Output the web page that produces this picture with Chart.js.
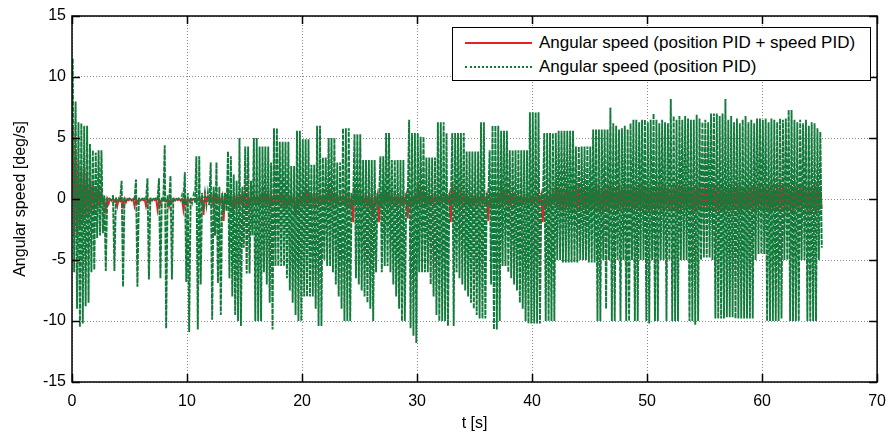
<!DOCTYPE html>
<html>
<head>
<meta charset="utf-8">
<script src="https://cdn.jsdelivr.net/npm/chart.js@4.4.0/dist/chart.umd.min.js"></script>
<style>
  body { margin: 0; background: #fff; }
  #wrap { position: relative; width: 896px; height: 437px; }
  #legend {
    position: absolute; left: 452px; top: 27px; width: 419px; height: 54px;
    box-sizing: border-box; border: 1.5px solid #000; background: #fff;
    font-family: "Liberation Sans", Arial, sans-serif; font-size: 17px; color: #000;
  }
  .row { position: absolute; left: 0; height: 22px; display: flex; align-items: center; white-space: nowrap; }
  .sample { width: 67px; margin-left: 12px; margin-right: 7px; height: 0; }
</style>
</head>
<body>
<div id="wrap">
  <canvas id="speedChart" width="896" height="437"></canvas>
  <div id="legend"></div>
</div>
<script>
// Angular speed, two controllers
// values in 0.25 s bins: upper / lower swing of each trace

const binStep = 0.25; // s

const seriesNames = ["Angular speed (position PID + speed PID)", "Angular speed (position PID)"];
const xTicks = [0, 10, 20, 30, 40, 50, 60, 70];
const yTicks = [-15, -10, -5, 0, 5, 10, 15];

// position PID only (green)
const greenHi = [
  11.5, 8, 6.3, 6.2,  6, 6, 4.5, 4,  3.8, 4, 4, 0.3,  0.1, 0.1, 0.3, 0.1,
  0.1, 1.5, 0.1, 0.1,  0.1, 0.1, 1.6, 0.1,  0.1, 0.1, 1.7, 0.1,  0.1, 0.1, 1.7, 0.1,
  4.4, 0.3, 1.9, 0.1,  0.1, 0.1, 0.3, 2.2,  0.5, 0.1, 0.3, 3.5,  3.5, 0.5, 0.5, 0.5,
  3, 1, 3, 1,  0.5, 0.5, 3.9, 3.5,  2, 1.5, 5, 1,  4.3, 4.3, 1.5, 5,
  5, 4.3, 4.3, 4.3,  4.3, 3, 5.8, 5.8,  4.7, 4.7, 4.7, 4.7,  2.7, 2.7, 5.6, 5.6,
  4.9, 4.9, 4.9, 2.8,  2.8, 6, 6, 3.4,  3.4, 5, 5, 5,  3, 3, 5.8, 5.8,
  5.8, 0.5, 5.3, 5.3,  5.3, 3.2, 3.2, 3.2,  3.2, 3.2, 0.5, 3.5,  3.5, 5.4, 5.4, 3.2,
  3.2, 3.2, 3.2, 3.2,  0.5, 6.5, 5.4, 5.4,  5.4, 5.1, 5.1, 3.4,  3.4, 3.4, 3.4, 6.3,
  6.3, 6.3, 5.4, 0.5,  5.4, 5.4, 5.4, 5.4,  5.4, 3.9, 3.9, 3.9,  3.9, 3.9, 6.3, 6.3,
  0.5, 4, 6, 6,  6, 5.6, 5.6, 5.6,  4, 4, 4, 4,  4, 4, 4, 7.1,
  7.1, 7.1, 7.1, 0.5,  5.4, 5.4, 5.4, 5.4,  5.4, 5.6, 5.6, 5.6,  5.6, 5.6, 5.6, 4.3,
  4.3, 4.3, 4.3, 4.3,  4.3, 5.7, 5.7, 5.7,  5.7, 5.7, 5.7, 7.5,  6.2, 6, 5.7, 5.8,
  6, 5.7, 6.2, 6.5,  6.5, 6.3, 6.5, 6.5,  6.3, 6.5, 7, 6.5,  6.2, 6.5, 6.3, 6.2,
  8.2, 6.8, 6.5, 6.8,  6.5, 6.8, 6.6, 6.5,  6.5, 6.9, 6.6, 6.3,  6.5, 6.3, 7, 7,
  7, 6.8, 7, 8.2,  6.5, 6.8, 6.3, 6.6,  6.2, 6.5, 6.8, 6.3,  6.5, 6.2, 6.6, 6.6,
  6.5, 6.6, 6.3, 6.6,  6.5, 6.3, 6.6, 6.5,  6.6, 7.3, 7.3, 6.5,  6.3, 6.5, 6.2, 6.5,
  6, 6.3, 6.2, 5.8,  5.5
];
const greenLo = [
  -6, -9, -10.5, -10.2,  -8.8, -8.5, -6, -5.8,  -3.2, -3, -2.8, -5.9,  -0.1, -0.1, -5.9, -0.2,
  -0.1, -7.2, -0.2, -0.1,  -0.1, -0.1, -7.2, -0.2,  -0.1, -0.1, -6.6, -0.2,  -0.1, -0.1, -6.5, -0.2,
  -10.6, -0.5, -6.6, -0.2,  -0.1, -0.1, -0.4, -6.8,  -10.9, -0.3, -0.3, -10.7,  -7, -0.5, -0.5, -0.5,
  -9.9, -3, -6.9, -9.5,  -1, -1, -6.5, -8,  -9.5, -10, -10.4, -4,  -6.1, -6.1, -3, -10,
  -10, -10, -6, -7,  -8.5, -10.7, -5.5, -5.5,  -5.5, -5.5, -6.5, -7.5,  -8.5, -9.5, -10, -10,
  -8, -8, -8, -8,  -9, -10.4, -10.4, -5,  -5.5, -5.5, -6, -7,  -8, -9, -10, -10,
  -10, -0.5, -6.5, -7,  -7.5, -8, -8.5, -9,  -10, -6, -0.5, -6,  -5.5, -5.5, -6, -7,
  -8, -9, -10, -10,  -0.5, -10.6, -11.2, -11.8,  -6, -6, -6, -6,  -7, -8, -9.5, -10,
  -10, -10, -10.4, -0.5,  -10.4, -6, -6.5, -7,  -7.5, -8, -8.5, -9,  -9.5, -9.8, -9.8, -9.8,
  -0.5, -7, -10.7, -10.7,  -10, -5.5, -5.5, -6,  -6.5, -7, -7.5, -8.5,  -9, -10, -10.2, -10.2,
  -10.2, -10.2, -10.2, -0.5,  -10, -10, -10, -10,  -5, -5, -5.2, -5.2,  -5.2, -5.2, -5.2, -5.2,
  -5, -5, -5, -5.2,  -5.2, -5.2, -10, -10,  -5, -9, -5, -10,  -10, -5, -10, -5,
  -10, -10, -5, -10,  -10, -5, -5, -10,  -10.2, -5, -10, -10,  -5, -5, -10, -5,
  -10, -10, -10, -5,  -5, -5, -10, -10,  -10.3, -10, -5, -4.8,  -4.8, -4.8, -5, -9.8,
  -9.8, -9.8, -9.8, -9.7,  -9.7, -9.7, -9.8, -9.8,  -9.8, -9.8, -9.8, -9.8,  -9.8, -5, -4.5, -4.5,
  -4.5, -10, -10, -10,  -10, -10, -9.8, -5,  -5, -10, -10, -10,  -10, -5, -5, -10,
  -10, -10, -10, -5,  -4
];

// position PID + speed PID (red)
const redHi = [
  6, 4, 3, 2.5,  2.5, 2, 1.5, 1.5,  1, 1, 0.5, 0,  0, 0, 0, 0,
  0, 0, 0, 0,  0, 0, 0, 0,  0, 0, 0, 0,  0, 0, 0, 0,
  0, 0, 0, 0,  0, 0, 0, 0,  0, 0, 0, 0,  0.2, 0, 0.3, 0.2,
  0.2, 0.5, 0.3, 0.2,  0.2, 0.5, 0.5, 0.3,  0.3, 0.3, 0.3, 0.5,  0.5, 0.3, 0.3, 0.3,
  0.3, 0.3, 0.7, 0.5,  0.5, 0.3, 0.3, 0.3,  0.3, 0.7, 0.5, 0.3,  0.3, 0.3, 0.3, 0.3,
  0.3, 0.9, 0.6, 0.4,  0.3, 0.3, 0.3, 0.3,  0.3, 1, 0.6, 0.4,  0.3, 0.3, 0.3, 0.3,
  0.3, 0.3, 1, 0.6,  0.4, 0.3, 0.3, 0.3,  0.3, 0.3, 0.3, 0.5,  1.1, 0.7, 0.5, 0.4,
  0.3, 0.3, 0.3, 0.3,  0.3, 0.3, 0.3, 0.3,  1.3, 0.8, 0.6, 0.4,  0.3, 0.3, 0.3, 0.3,
  0.3, 0.3, 0.3, 0.3,  1.4, 0.8, 0.6, 0.5,  0.4, 0.4, 0.3, 0.3,  0.3, 0.3, 0.3, 0.3,
  0.3, 0.3, 0.3, 0.3,  0.3, 1.4, 0.8, 0.6,  0.5, 0.4, 0.4, 0.3,  0.3, 0.3, 0.3, 0.3,
  0.3, 0.3, 0.3, 0.3,  0.3, 0.4, 0.4, 0.5,  1.4, 1, 0.9, 0.8,  1.2, 0.9, 1.1, 1.2,
  1, 1.2, 0.9, 1.1,  1.2, 1, 1.3, 1.1,  0.9, 1.2, 1.1, 1.3,  1.1, 0.9, 1.2, 1,
  1.3, 1.1, 1, 1.2,  1, 1.2, 1.3, 1.1,  1.2, 1, 0.9, 1.2,  1.1, 1.3, 1.2, 1,
  0.9, 1.1, 1.3, 1.2,  1.2, 1, 1.1, 1.3,  1, 1.2, 1.2, 0.9,  1.1, 1.3, 1, 1.2,
  1.2, 1.1, 1.3, 1,  1, 1.2, 1.1, 1.3,  1.3, 1, 1.2, 1.1,  1.1, 1.3, 1, 1.2,
  1.2, 1, 1.1, 1.3,  1, 1.2, 1.3, 1.1,  1.3, 1.1, 1, 1.2,  1.1, 1.2, 1.3, 1,
  1.2, 1, 1.3, 1.4,  1
];
const redLo = [
  -3, -3, -2.5, -2,  -1.5, -1.5, -1, -1,  -0.8, -0.5, -0.3, -0.9,  -0.4, -0.1, -0.2, -0.6,
  -0.2, -0.6, -0.3, -0.1,  -0.1, -0.6, -0.3, -0.1,  -0.1, -0.6, -0.3, -0.1,  -0.1, -0.9, -0.4, -0.1,
  -0.2, -0.6, -0.3, -0.1,  -0.1, -0.1, -0.9, -0.4,  -0.2, -0.1, -0.1, -0.1,  -0.2, -1.3, -0.3, -0.2,
  -0.3, -0.2, -0.2, -0.3,  -1.8, -0.3, -0.3, -0.8,  -0.5, -0.4, -0.3, -0.3,  -0.9, -0.5, -0.3, -0.3,
  -0.3, -0.3, -0.3, -0.3,  -0.5, -0.3, -0.3, -0.3,  -0.3, -1, -0.6, -0.4,  -0.3, -1.4, -0.6, -0.4,
  -0.3, -0.3, -0.3, -0.3,  -0.3, -0.3, -0.3, -0.3,  -0.3, -0.4, -0.4, -0.4,  -0.3, -0.3, -0.3, -0.6,
  -0.6, -1.9, -0.5, -0.4,  -0.4, -0.4, -0.4, -0.5,  -1.5, -0.4, -1.9, -0.5,  -0.5, -0.5, -0.5, -0.4,
  -0.4, -0.3, -0.3, -0.3,  -1.6, -0.5, -0.4, -0.4,  -0.4, -0.4, -0.4, -0.4,  -0.3, -0.3, -0.3, -0.3,
  -0.3, -0.3, -0.3, -1.9,  -0.5, -0.5, -0.5, -0.5,  -0.4, -0.4, -0.4, -0.4,  -0.3, -0.3, -0.3, -0.3,
  -1.8, -0.5, -0.5, -0.4,  -0.4, -0.5, -0.5, -0.5,  -0.4, -0.4, -0.4, -0.4,  -0.3, -0.3, -0.3, -0.3,
  -0.3, -0.3, -0.3, -1.9,  -0.6, -0.5, -0.5, -0.5,  -0.8, -0.9, -1, -0.8,  -0.9, -1.1, -0.8, -1,
  -1, -0.8, -1.1, -0.9,  -0.8, -1, -0.9, -1.1,  -1.1, -0.9, -1, -0.8,  -0.9, -1.1, -0.8, -1,
  -1, -0.8, -1.1, -0.9,  -0.8, -1, -0.9, -1.1,  -1.1, -0.9, -1, -0.8,  -0.9, -1.1, -0.8, -1,
  -1, -0.8, -1.1, -0.9,  -0.8, -1, -0.9, -1.1,  -1.1, -0.9, -1, -0.8,  -0.9, -1.1, -0.8, -1,
  -1, -0.8, -1.1, -0.9,  -0.8, -1, -0.9, -1.1,  -1.1, -0.9, -1, -0.8,  -0.9, -1.1, -0.8, -1,
  -1, -0.8, -1.1, -0.9,  -0.8, -1, -0.9, -1.1,  -1.1, -0.9, -1, -0.8,  -0.9, -1.1, -0.8, -1,
  -1, -0.8, -1.1, -0.9,  -0.8
];

const redColor = '#e3232a';
const greenColor = '#137a3c';
const fontFamily = '"Liberation Sans", Arial, sans-serif';

console.log(greenHi.length, greenLo.length, redHi.length, redLo.length);

// each bin: swing up in its first half, swing down in its second half
function swing(hi, lo) {
  const pts = [];
  for (let i = 0; i < hi.length; i++) {
    pts.push({ x: i * binStep + binStep / 4, y: hi[i] });
    pts.push({ x: i * binStep + binStep * 3 / 4, y: lo[i] });
  }
  return pts;
}

// quiet stretches of the dotted trace: sparse dots so the red line shows through
function quietDash(c) {
  const quiet = Math.abs(c.p0.parsed.y) < 0.6 && Math.abs(c.p1.parsed.y) < 0.6;
  return quiet ? [1.5, 2.5] : undefined;
}

// black box + inward ticks, matlab style
const framePlugin = {
  id: 'frame',
  afterDraw(chart) {
    const { ctx, chartArea: a, scales } = chart;
    ctx.save();
    ctx.strokeStyle = '#000';
    ctx.lineWidth = 1.5;
    ctx.strokeRect(a.left, a.top, a.right - a.left, a.bottom - a.top);
    ctx.beginPath();
    xTicks.forEach(v => {
      const px = Math.round(scales.x.getPixelForValue(v)) + 0.5;
      ctx.moveTo(px, a.bottom); ctx.lineTo(px, a.bottom - 8);
      ctx.moveTo(px, a.top); ctx.lineTo(px, a.top + 8);
    });
    yTicks.forEach(v => {
      const py = Math.round(scales.y.getPixelForValue(v)) + 0.5;
      ctx.moveTo(a.left, py); ctx.lineTo(a.left + 8, py);
      ctx.moveTo(a.right, py); ctx.lineTo(a.right - 8, py);
    });
    ctx.stroke();
    ctx.restore();
  }
};

const ctx = document.getElementById('speedChart').getContext('2d');

// lowest order is drawn last, so the green trace sits on top of the red one
new Chart(ctx, {
  type: 'line',
  data: {
    datasets: [{
      label: seriesNames[0],
      data: swing(redHi, redLo),
      borderColor: redColor,
      borderWidth: 1.8,
      pointRadius: 0,
      tension: 0,
      order: 1
    }, {
      label: seriesNames[1],
      data: swing(greenHi, greenLo),
      borderColor: greenColor,
      borderWidth: 1.9,
      borderDash: [5, 1],
      segment: { borderDash: quietDash },
      pointRadius: 0,
      tension: 0,
      order: 0
    }]
  },
  options: {
    responsive: false,
    animation: false,
    layout: { padding: { top: 16, right: 14, left: 0, bottom: 0 } },
    plugins: {
      legend: { display: false },
      tooltip: { enabled: false }
    },
    scales: {
      x: {
        type: 'linear',
        min: 0,
        max: 70,
        afterBuildTicks: s => { s.ticks = xTicks.map(v => ({ value: v })); },
        afterFit: s => { s.height = 55; },
        ticks: { color: '#000', padding: 10, font: { size: 16, family: fontFamily } },
        grid: { color: '#8a8a8a', lineWidth: 1, drawTicks: false },
        border: { display: false, dash: [1, 2] },
        title: {
          display: true, text: 't [s]', color: '#000',
          font: { size: 16, family: fontFamily },
          padding: { top: 0, bottom: 4 }
        }
      },
      y: {
        min: -15,
        max: 15,
        afterBuildTicks: s => { s.ticks = yTicks.map(v => ({ value: v })); },
        afterFit: s => { s.width = 72; },
        ticks: { color: '#000', padding: 6, font: { size: 16, family: fontFamily } },
        grid: { color: '#8a8a8a', lineWidth: 1, drawTicks: false },
        border: { display: false, dash: [1, 2] },
        title: {
          display: true, text: 'Angular speed [deg/s]', color: '#000',
          font: { size: 16, family: fontFamily },
          padding: { top: 11, bottom: 0 }
        }
      }
    }
  },
  plugins: [framePlugin]
});

// legend box inside the axes, top right
const legend = document.getElementById('legend');
[
  { name: seriesNames[0], style: '2px solid ' + redColor, top: 4 },
  { name: seriesNames[1], style: '2px dotted ' + greenColor, top: 28 }
].forEach(item => {
  const row = document.createElement('div');
  row.className = 'row';
  row.style.top = item.top + 'px';
  const sample = document.createElement('span');
  sample.className = 'sample';
  sample.style.borderTop = item.style;
  const label = document.createElement('span');
  label.textContent = item.name;
  row.appendChild(sample);
  row.appendChild(label);
  legend.appendChild(row);
});
</script>
</body>
</html>
